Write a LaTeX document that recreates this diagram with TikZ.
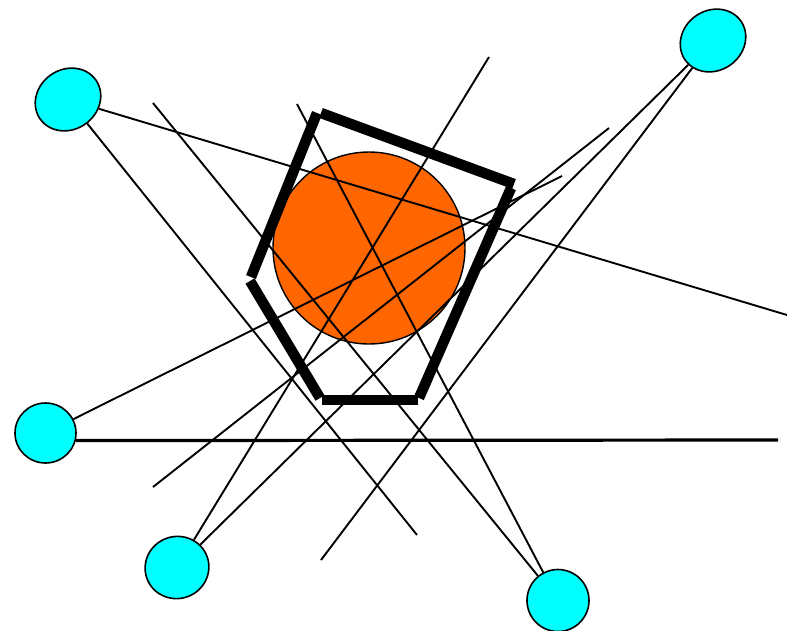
\documentclass[tikz,border=0pt]{standalone}
\usetikzlibrary{shapes.geometric}
\definecolor{cyanfill}{HTML}{00FFFF}
\definecolor{orangefill}{HTML}{FF6600}
\begin{document}
\begin{tikzpicture}[x=1pt,y=-1pt,
  blob/.style={ellipse, draw=black, line width=1.6pt, fill=cyanfill, inner sep=0pt},
  wire/.style={draw=black, line width=1.9pt},
  heavywire/.style={draw=black, line width=3.2pt},
  framebar/.style={draw=black, line width=10.5pt, line cap=butt}]
\useasboundingbox (0,0) rectangle (787,630);
% orange disc
\node[circle, draw=black, line width=1.4pt, fill=orangefill, minimum size=192pt, inner sep=0pt] (O) at (369,248) {};
% cyan ellipses
\node[blob, minimum width=68pt, minimum height=60pt, rotate=35] (A) at (68,99.5) {};
\node[blob, minimum width=68pt, minimum height=60pt, rotate=35] (B) at (713,40.5) {};
\node[blob, minimum width=61pt, minimum height=60pt] (C) at (45.5,433) {};
\node[blob, minimum width=64pt, minimum height=62pt, rotate=20] (D) at (177,567.5) {};
\node[blob, minimum width=62pt, minimum height=62pt] (E) at (558,600.5) {};
% free ends
\coordinate (a1) at (787,315);
\coordinate (a2) at (417,535);
\coordinate (s3) at (153,103);
\coordinate (s4) at (297,104);
\coordinate (s5) at (489,57);
\coordinate (b2) at (321,560);
\coordinate (s8) at (609,128);
\coordinate (e8) at (153,487);
\coordinate (c1) at (562,176);
\coordinate (c2) at (778,440);
% pentagon corners
\coordinate (p1) at (321,113);
\coordinate (p2) at (514,184);
\coordinate (p2b) at (511,188);
\coordinate (p3) at (419,398);
\coordinate (p4) at (418,400);
\coordinate (p5) at (322,400);
\coordinate (p6) at (320,398);
\coordinate (p7) at (250,281);
\coordinate (p8) at (251,277);
\coordinate (p9) at (317,113);
% connectors
\draw[wire] (A) -- (a1);
\draw[wire] (A) -- (a2);
\draw[wire] (s3) -- (E);
\draw[wire] (s4) -- (E);
\draw[wire] (s5) -- (D);
\draw[wire] (B) -- (D);
\draw[wire] (B) -- (b2);
\draw[wire] (s8) -- (e8);
\draw[wire] (C) -- (c1);
\draw[heavywire] (C.-14) -- (c2);
% pentagon frame as separate bars
\draw[framebar] (p1) -- (p2);
\draw[framebar] (p2b) -- (p3);
\draw[framebar] (p4) -- (p5);
\draw[framebar] (p6) -- (p7);
\draw[framebar] (p8) -- (p9);
\end{tikzpicture}
\end{document}
